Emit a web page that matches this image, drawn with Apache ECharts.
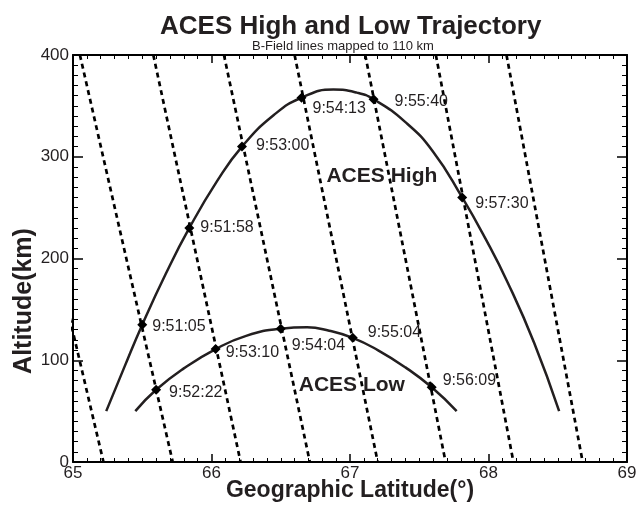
<!DOCTYPE html>
<html><head><meta charset="utf-8">
<script src="https://cdn.jsdelivr.net/npm/echarts@6/dist/echarts.min.js"></script>
<style>html,body{margin:0;padding:0;background:#fff}#c{width:642px;height:508px}</style>
</head><body><div id="c"></div>
<script>
// ---- data ----
// B-field lines mapped to 110 km: latitude where each line is at 400 km and at 0 km
const fieldLatAt400 = [64.53, 65.05, 65.58, 66.09, 66.60, 67.11, 67.62, 68.13];
const fieldLatAt0   = [65.22, 65.72, 66.21, 66.71, 67.20, 67.69, 68.18, 68.68];
const fieldAltEnds  = [400, 0];

// trajectories
const highLat = [65.24, 65.37, 65.50, 65.67, 65.84, 66.04, 66.22, 66.45, 66.65, 66.88, 67.05, 67.17, 67.40, 67.60, 67.81, 67.98, 68.14, 68.33, 68.51];
const highAlt = [50, 93, 135, 185, 230, 276, 310, 341, 358, 366, 363, 356.5, 334, 305, 260, 219, 176, 117, 50];
const lowLat  = [65.45, 65.60, 65.80, 66.03, 66.25, 66.50, 66.69, 66.85, 67.02, 67.20, 67.40, 67.59, 67.77];
const lowAlt  = [50, 71, 92, 111, 124, 131, 132.4, 129, 122, 110, 93, 73.4, 50];

// time marks
const highMarkLat  = [65.50, 65.84, 66.22, 66.65, 67.17, 67.81];
const highMarkAlt  = [135, 230, 310, 358, 356.5, 260];
const highMarkTime = ['9:51:05', '9:51:58', '9:53:00', '9:54:13', '9:55:40', '9:57:30'];
const lowMarkLat   = [65.60, 66.03, 66.50, 67.02, 67.59];
const lowMarkAlt   = [71, 111, 131, 122, 73.4];
const lowMarkTime  = ['9:52:22', '9:53:10', '9:54:04', '9:55:04', '9:56:09'];

// curve names
const curveNames   = ['ACES High', 'ACES Low'];
const curveNameLat = [66.83, 66.63];
const curveNameAlt = [281, 75];

// axes
const xMin = 65, xMax = 69, xStep = 1;
const yMin = 0, yMax = 400, yStep = 100;

const titleText = 'ACES High and Low Trajectory';
const subtitleText = 'B-Field lines mapped to 110 km';
const xTitle = 'Geographic Latitude(\u00b0)';
const yTitle = 'Altitude(km)';

// ---- styles (label offsets in px relative to marker centre) ----
const highLabelShift = [[10, 2], [11, 0], [14, -1], [11, 11], [21, 2], [13, 6]];
const lowLabelShift  = [[13, 3], [10, 4], [11, 17], [15, -5], [11, -7]];
const FONT = 'Liberation Sans, Arial, Helvetica, sans-serif';
const INK = '#231f20';
const SYM = 10;

function zip(a, b) { return a.map((v, i) => [v, b[i]]); }

const series = [];
fieldLatAt400.forEach((top, i) => {
  series.push({
    type: 'line', xAxisIndex: 0, yAxisIndex: 0, symbol: 'none', clip: true, silent: true, z: 2,
    data: [[top, fieldAltEnds[0]], [fieldLatAt0[i], fieldAltEnds[1]]],
    lineStyle: { color: '#000', width: 2.7, type: [5, 4] }
  });
});
series.push({
  type: 'line', symbol: 'none', smooth: 0.5, clip: true, z: 3,
  data: zip(highLat, highAlt), lineStyle: { color: INK, width: 2.5 }
});
series.push({
  type: 'line', symbol: 'none', smooth: 0.5, clip: true, z: 3,
  data: zip(lowLat, lowAlt), lineStyle: { color: INK, width: 2.5 }
});
function markSeries(lat, alt, times, shift) {
  return {
    type: 'scatter', symbol: 'diamond', symbolSize: SYM, z: 5,
    itemStyle: { color: '#000', opacity: 1 },
    data: lat.map((v, i) => ({
      value: [v, alt[i]],
      label: {
        show: true, formatter: times[i],
        position: [shift[i][0] + SYM / 2, shift[i][1] + SYM / 2],
        align: 'left', verticalAlign: 'middle', opacity: 1,
        fontFamily: FONT, fontSize: 16, color: INK
      }
    }))
  };
}
series.push(markSeries(highMarkLat, highMarkAlt, highMarkTime, highLabelShift));
series.push(markSeries(lowMarkLat, lowMarkAlt, lowMarkTime, lowLabelShift));
series.push({
  type: 'scatter', symbolSize: 0, z: 6, silent: true,
  itemStyle: { opacity: 1 },
  data: curveNames.map((n, i) => ({
    value: [curveNameLat[i], curveNameAlt[i]],
    label: { show: true, formatter: n, position: [0, 0], align: 'left', verticalAlign: 'middle', opacity: 1,
      fontFamily: FONT, fontSize: 21, fontWeight: 'bold', color: INK }
  }))
});

function xAxisCfg(pos, labels) {
  return {
    type: 'value', position: pos, min: xMin, max: xMax, interval: xStep,
    axisLine: { show: true, onZero: false, lineStyle: { color: '#000', width: 2 } },
    axisTick: { show: true, inside: true, length: 8, lineStyle: { color: '#000', width: 1.5 } },
    minorTick: { show: true, splitNumber: 10, length: 4, lineStyle: { color: '#000', width: 1 } },
    axisLabel: { show: labels, margin: 3, fontFamily: FONT, fontSize: 17, color: INK },
    splitLine: { show: false }
  };
}
function yAxisCfg(pos, labels) {
  return {
    type: 'value', position: pos, min: yMin, max: yMax, interval: yStep,
    axisLine: { show: true, onZero: false, lineStyle: { color: '#000', width: 2 } },
    axisTick: { show: true, inside: true, length: 10, lineStyle: { color: '#000', width: 1.5 } },
    minorTick: { show: true, splitNumber: 10, length: 5, lineStyle: { color: '#000', width: 1 } },
    axisLabel: { show: labels, margin: 4, fontFamily: FONT, fontSize: 17, color: INK },
    splitLine: { show: false }
  };
}

const chart = echarts.init(document.getElementById('c'), null, { renderer: 'canvas' });
chart.setOption({
  backgroundColor: '#fff',
  animation: false,
  title: [
    { text: titleText, left: 155, top: 9,
      textStyle: { fontFamily: FONT, fontSize: 26, fontWeight: 'bold', color: INK } },
    { text: subtitleText, left: 247, top: 35,
      textStyle: { fontFamily: FONT, fontSize: 13, fontWeight: 'normal', color: INK } }
  ],
  grid: { left: 73, right: 15, top: 55, bottom: 46, containLabel: false },
  xAxis: [xAxisCfg('bottom', true), xAxisCfg('top', false)],
  yAxis: [yAxisCfg('left', true), yAxisCfg('right', false)],
  graphic: [
    { type: 'text', x: 350, y: 491, style: { text: xTitle, font: 'bold 23px ' + FONT, fill: INK, align: 'center', verticalAlign: 'middle' } },
    { type: 'text', x: 24, y: 301, rotation: Math.PI / 2, style: { text: yTitle, font: 'bold 25px ' + FONT, fill: INK, align: 'center', verticalAlign: 'middle' } }
  ],
  series: series
});
</script>
</body></html>
